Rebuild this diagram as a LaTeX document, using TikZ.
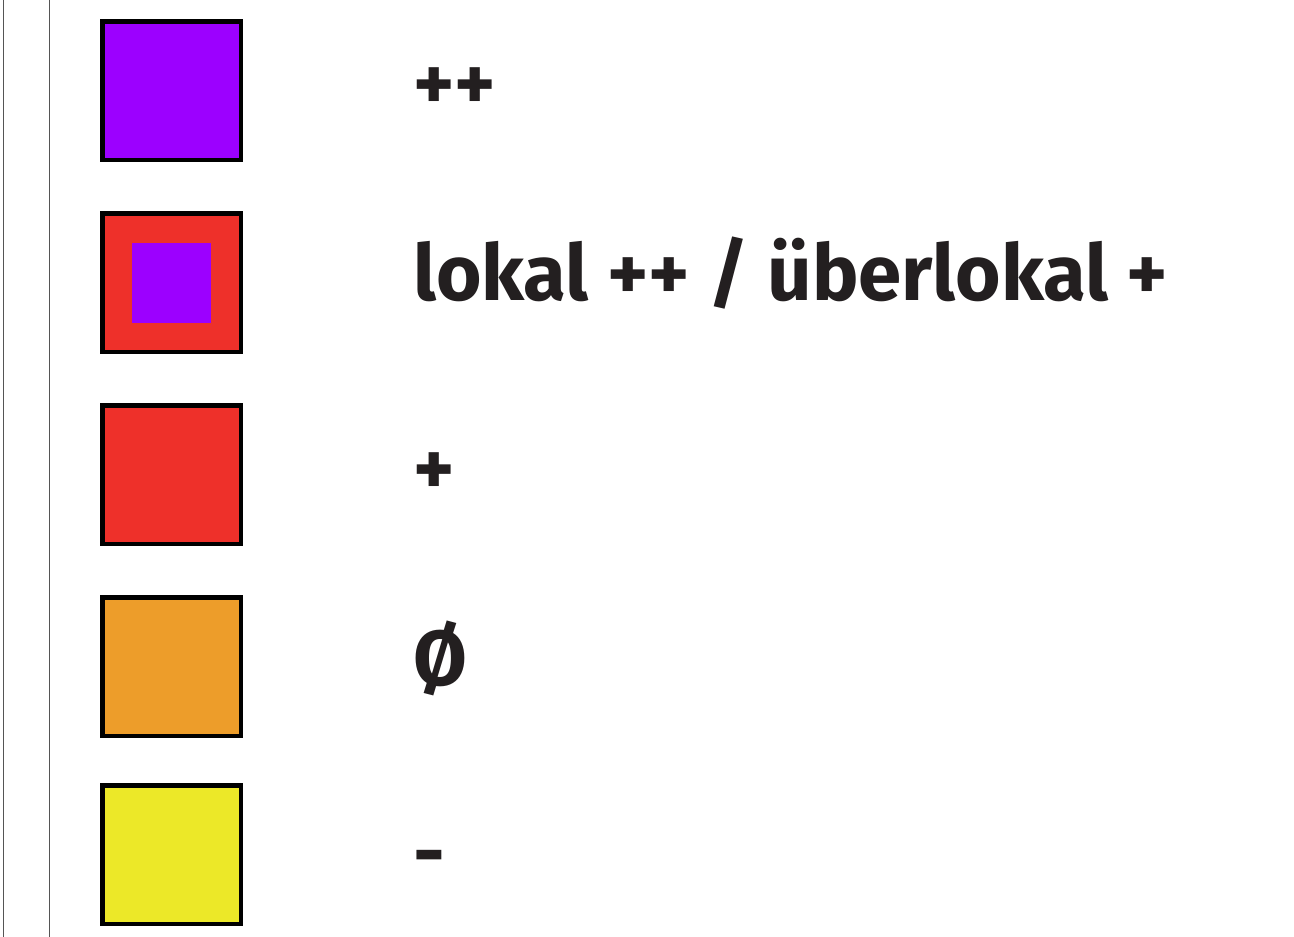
\documentclass[tikz,border=0pt]{standalone}
\usepackage{fontspec}
\setmainfont{Fira Sans}[BoldFont={* Bold}]
\definecolor{lpurple}{RGB}{156,0,255}
\definecolor{lred}{RGB}{238,48,42}
\definecolor{lorange}{RGB}{237,157,42}
\definecolor{lyellow}{RGB}{236,232,40}
\definecolor{ltext}{RGB}{35,31,32}
\definecolor{lline}{RGB}{85,85,85}
\begin{document}
\begin{tikzpicture}[x=1pt,y=-1pt,
  swatch/.style={draw=black,line width=4.8pt,minimum width=138.5pt,minimum height=138.5pt,inner sep=0pt,outer sep=0pt,anchor=north west},
  inner/.style={fill=lpurple,minimum width=79pt,minimum height=80pt,inner sep=0pt},
  label/.style={anchor=base west,inner sep=0pt,text=ltext,font=\fontsize{78}{80}\selectfont\bfseries},
  rule/.style={draw=lline,line width=1.4pt}]
\useasboundingbox (0,0) rectangle (1294,937);
\coordinate (t1) at (3.5,0); \coordinate (b1) at (3.5,937);
\coordinate (t2) at (49.5,0); \coordinate (b2) at (49.5,937);
\draw[rule] (t1) -- (b1);
\draw[rule] (t2) -- (b2);
\node[swatch,fill=lpurple] (s1) at (102.5,21.5) {};
\node[swatch,fill=lred] (s2) at (102.5,213.5) {};
\node[inner] (s2i) at (s2.center) {};
\node[swatch,fill=lred] (s3) at (102.5,405.5) {};
\node[swatch,fill=lorange] (s4) at (102.5,597.5) {};
\node[swatch,fill=lyellow] (s5) at (102.5,785.5) {};
\node[label] (l1) at (413,110) {++};
\node[label] (l2) at (413,300) {lokal ++ / überlokal +};
\node[label] (l3) at (413,495) {+};
\node[label] (l4) at (413,685) {Ø};
\node[label] (l5) at (413,879) {-};
\end{tikzpicture}
\end{document}
